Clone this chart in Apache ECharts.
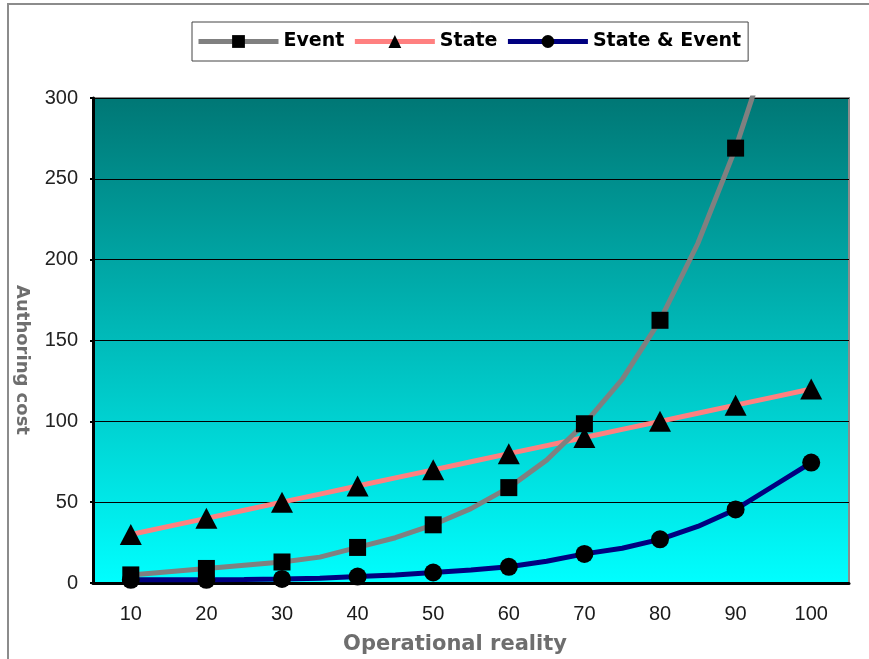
<!DOCTYPE html>
<html>
<head>
<meta charset="utf-8">
<script src="https://cdn.jsdelivr.net/npm/echarts@6/dist/echarts.min.js"></script>
<style>
  html, body { margin: 0; padding: 0; background: #fff; }
  #chart { width: 869px; height: 659px; }
</style>
</head>
<body>
<div id="chart"></div>
<script>
// Operational reality levels (sampled every 5; markers sit on the multiples of 10)
const levels = [10, 15, 20, 25, 30, 35, 40, 45, 50, 55, 60, 65, 70, 75, 80, 85, 90, 95, 100];
const tickLabels = ['10', '20', '30', '40', '50', '60', '70', '80', '90', '100'];

// Authoring cost per approach
const eventCost      = [5, 7, 9, 11, 13, 16, 22, 28, 36, 46, 59, 76, 98.5, 126, 162.5, 210, 269, 340, null];
const stateCost      = [30, 35, 40, 45, 50, 55, 60, 65, 70, 75, 80, 85, 90, 95, 100, 105, 110, 115, 120];
const stateEventCost = [2, 2, 2, 2.2, 2.5, 3, 4, 5, 6.5, 8, 10, 13.5, 18, 21.5, 27, 35, 45.5, 60, 74.5];

const yTicks = { min: 0, max: 300, step: 50 };

function toPoints(values) {
  const pts = [];
  values.forEach((v, i) => {
    if (v === null) return;
    const item = { value: [levels[i], v] };
    if (levels[i] % 10 !== 0) item.symbol = 'none';
    pts.push(item);
  });
  return pts;
}

const chart = echarts.init(document.getElementById('chart'), null, { renderer: 'canvas' });

const option = {
  backgroundColor: '#ffffff',
  animation: false,
  legend: {
    data: ['Event', 'State', 'State & Event'],
    left: 192,
    top: 22,
    orient: 'horizontal',
    padding: [10, 7, 10, 4],
    itemWidth: 80,
    itemHeight: 16,
    itemGap: 8,
    borderColor: '#444',
    borderWidth: 1,
    backgroundColor: '#ffffff',
    borderRadius: 0,
    lineStyle: { width: 5 },
    textStyle: {
      fontFamily: 'DejaVu Sans',
      fontWeight: 'bold',
      fontSize: 19,
      color: '#000'
    }
  },
  grid: {
    left: 93,
    right: 20,
    top: 98,
    bottom: 76,
    show: true,
    borderColor: '#8c8c8c',
    borderWidth: 2,
    backgroundColor: new echarts.graphic.LinearGradient(0, 0, 0, 1, [
      { offset: 0, color: '#007775' },
      { offset: 1, color: '#00ffff' }
    ])
  },
  xAxis: [
    {
      type: 'category',
      data: tickLabels,
      boundaryGap: true,
      axisLine: { lineStyle: { color: '#000', width: 3 } },
      axisTick: { inside: true, length: 5, lineStyle: { color: '#000', width: 2 } },
      axisLabel: {
        margin: 21,
        fontFamily: '"Liberation Sans", Arial, sans-serif',
        fontSize: 20,
        color: '#1a1a1a'
      },
      splitLine: { show: false }
    },
    {
      type: 'value',
      min: 5,
      max: 105,
      show: false,
      splitLine: { show: false }
    }
  ],
  yAxis: {
    type: 'value',
    min: yTicks.min,
    max: yTicks.max,
    interval: yTicks.step,
    axisLine: { show: true, lineStyle: { color: '#000', width: 3 } },
    axisTick: { show: true, inside: false, length: 3, lineStyle: { color: '#000', width: 2 } },
    axisLabel: {
      margin: 15,
      fontFamily: '"Liberation Sans", Arial, sans-serif',
      fontSize: 20,
      color: '#222'
    },
    splitLine: { show: true, lineStyle: { color: '#000', width: 1 } }
  },
  series: [
    {
      name: 'State',
      type: 'line',
      xAxisIndex: 1,
      data: toPoints(stateCost),
      symbol: 'triangle',
      symbolSize: [22, 21],
      itemStyle: { color: '#000' },
      lineStyle: { color: '#ff8080', width: 5 },
      z: 2
    },
    {
      name: 'Event',
      type: 'line',
      xAxisIndex: 1,
      data: toPoints(eventCost),
      symbol: 'rect',
      symbolSize: 17,
      clip: true,
      itemStyle: { color: '#000' },
      lineStyle: { color: '#808080', width: 5 },
      z: 3
    },
    {
      name: 'State & Event',
      type: 'line',
      xAxisIndex: 1,
      data: toPoints(stateEventCost),
      symbol: 'circle',
      symbolSize: 18,
      itemStyle: { color: '#000' },
      lineStyle: { color: '#000080', width: 5 },
      z: 4
    }
  ],
  graphic: [
    {
      // chart-area frame, open to the right and bottom
      type: 'polyline',
      shape: { points: [[8, 700], [8, 4], [900, 4]] },
      style: { fill: 'none', stroke: '#8c8c8c', lineWidth: 2 },
      silent: true,
      z: -10
    },
    {
      type: 'text',
      x: 22,
      y: 360,
      rotation: -Math.PI / 2,
      style: {
        text: 'Authoring cost',
        fill: '#6e6e6e',
        font: 'bold 18px "DejaVu Sans"',
        align: 'center',
        verticalAlign: 'middle'
      }
    },
    {
      type: 'text',
      x: 455,
      y: 645,
      style: {
        text: 'Operational reality',
        fill: '#6e6e6e',
        font: 'bold 21px "DejaVu Sans"',
        align: 'center',
        verticalAlign: 'middle'
      }
    }
  ]
};

chart.setOption(option);
</script>
</body>
</html>
